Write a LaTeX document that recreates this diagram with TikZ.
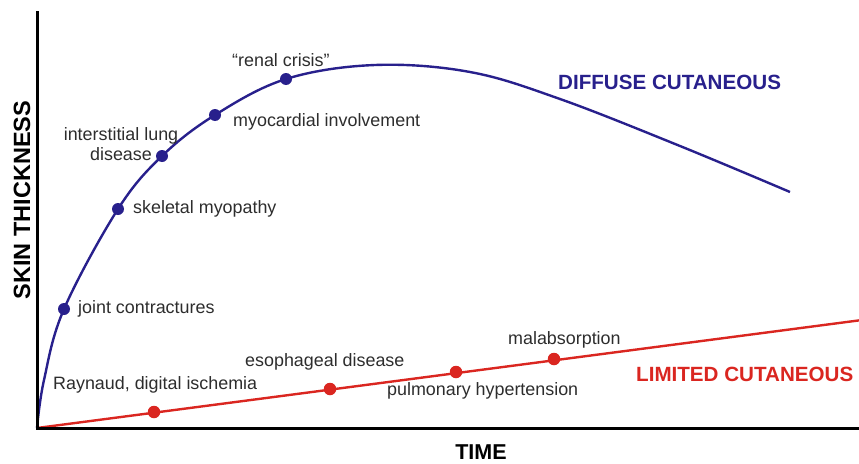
\documentclass[tikz,border=0pt]{standalone}
\usepackage{fontspec}
\setmainfont[Ligatures=TeX]{Liberation Sans}
\definecolor{diffuse}{RGB}{40,32,140}
\definecolor{limited}{RGB}{218,38,32}
\definecolor{labelgray}{RGB}{45,45,45}
\tikzset{
  axis/.style={line width=3pt},
  dcurve/.style={diffuse, line width=2.4pt},
  lcurve/.style={limited, line width=2.4pt},
  ddot/.style={circle, fill=diffuse, inner sep=0pt, minimum size=12pt},
  ldot/.style={circle, fill=limited, inner sep=0pt, minimum size=12.5pt},
  lbl/.style={text=labelgray, inner sep=0pt, font=\fontsize{17.9}{20.5}\selectfont},
  heading/.style={inner sep=0pt, font=\fontsize{20.6}{24}\selectfont\bfseries},
}

\begin{document}
\begin{tikzpicture}[x=1pt, y=-1pt]
	%%%%% START %%%%%
	\useasboundingbox (0,0) rectangle (859,463);
	
	% axes
	\coordinate (top) at (37,11);
	\coordinate (o) at (37,428);
	\coordinate (xend) at (859,428);
	
	% diffuse points
	\coordinate (jc) at (64,309);
	\coordinate (sm) at (118,209);
	\coordinate (ild) at (162,156);
	\coordinate (mi) at (215,115);
	\coordinate (rc) at (286,79);
	\coordinate (dend) at (790,192);
	
	% limited points
	\coordinate (rdi) at (154,412);
	\coordinate (ed) at (330,389);
	\coordinate (ph) at (456,372);
	\coordinate (ma) at (554,359);
	\coordinate (lend) at (862,320);
	
	\draw[lcurve] (o) -- (lend);
	\draw[dcurve] plot[smooth, tension=0.6] coordinates {(o) (44,380) (jc) (sm) (ild) (mi) (rc) (375,65) (470,72) (560,99) (680,146) (dend)};
	
	\draw[axis] (top) -- (o) -- (xend);
	
	\node[ddot] (jc-dot) at (jc) {};
	\node[ddot] (sm-dot) at (sm) {};
	\node[ddot] (ild-dot) at (ild) {};
	\node[ddot] (mi-dot) at (mi) {};
	\node[ddot] (rc-dot) at (rc) {};
	
	\node[ldot] (rdi-dot) at (rdi) {};
	\node[ldot] (ed-dot) at (ed) {};
	\node[ldot] (ph-dot) at (ph) {};
	\node[ldot] (ma-dot) at (ma) {};
	
	% labels
	\node[lbl, anchor=west] (rc-lbl) at (232,60) {``renal crisis''};
	\node[lbl, anchor=west] (mi-lbl) at (233,122) {myocardial involvement};
	\node[lbl, align=center] (ild-lbl) at (121,144) {interstitial lung\\disease};
	\node[lbl, anchor=west] (sm-lbl) at (133,209) {skeletal myopathy};
	\node[lbl, anchor=west] (jc-lbl) at (78,309) {joint contractures};
	
	\node[lbl, anchor=west] (rdi-lbl) at (53,385) {Raynaud, digital ischemia};
	\node[lbl, anchor=west] (ed-lbl) at (245,362) {esophageal disease};
	\node[lbl, anchor=west] (ph-lbl) at (387,391) {pulmonary hypertension};
	\node[lbl, anchor=west] (ma-lbl) at (508,340) {malabsorption};
	
	\node[heading, diffuse, anchor=west] (diffuse-lbl) at (558,82) {DIFFUSE CUTANEOUS};
	\node[heading, limited, anchor=west] (limited-lbl) at (636,374) {LIMITED CUTANEOUS};
	
	\node[heading, font=\fontsize{21.5}{24}\selectfont\bfseries] (time-lbl) at (481,452) {TIME};
	\node[heading, font=\fontsize{23.5}{26}\selectfont\bfseries, rotate=90] (skin-lbl) at (22,200) {SKIN THICKNESS};
	
	%%%%% END %%%%%
\end{tikzpicture}
\end{document}
